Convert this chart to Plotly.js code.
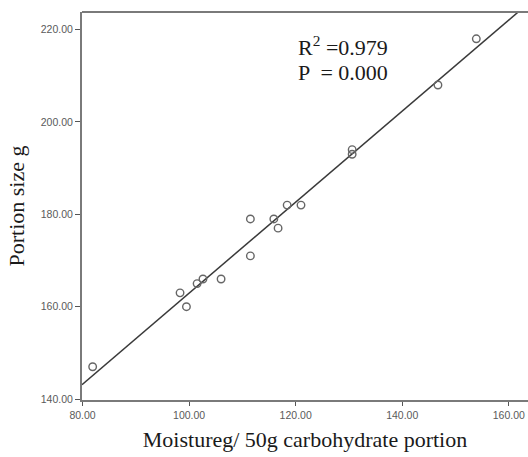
<!DOCTYPE html>
<html>
<head>
<meta charset="utf-8">
<script src="https://cdn.plot.ly/plotly-3.0.1.min.js"></script>
<style>html,body{margin:0;padding:0;background:#fff;overflow:hidden;}#chart{width:528px;height:457px;}</style>
</head>
<body>
<div id="chart"></div>
<script>
// Moisture (g per 50 g carbohydrate portion) vs portion size (g)
const moisture = [81.9, 98.3, 99.5, 101.5, 102.6, 106.0, 111.5, 111.5, 115.9, 116.7, 118.4, 121.0, 130.6, 130.6, 146.7, 153.9];
const portionSize = [147, 163, 160, 165, 166, 166, 179, 171, 179, 177, 182, 182, 194, 193, 208, 218];
const xTicks = [80, 100, 120, 140, 160];
const yTicks = [140, 160, 180, 200, 220];
const xRange = [79.9, 163.6];
const yRange = [139.8, 223.8];
const statLines = ["R<sup>2</sup> =0.979", "P  = 0.000"];

// least-squares fit line computed from the data
const n = moisture.length;
const mx = moisture.reduce((a, b) => a + b, 0) / n;
const my = portionSize.reduce((a, b) => a + b, 0) / n;
let sxy = 0, sxx = 0;
for (let i = 0; i < n; i++) { sxy += (moisture[i] - mx) * (portionSize[i] - my); sxx += (moisture[i] - mx) ** 2; }
const slope = sxy / sxx, intercept = my - slope * mx;
const fitX = [xRange[0], xRange[1]];
const fitY = fitX.map(x => intercept + slope * x);

const data = [
  {x: fitX, y: fitY, mode: 'lines', type: 'scatter', line: {color: '#3a3a3a', width: 1.5}, hoverinfo: 'skip'},
  {x: moisture, y: portionSize, mode: 'markers', type: 'scatter',
   marker: {symbol: 'circle-open', size: 7.5, color: '#666', line: {width: 1.4, color: '#666'}}}
];

const tickFont = {family: 'Liberation Sans, Arial, sans-serif', size: 10.5, color: '#5a5a5a'};
const titleFont = {family: 'Liberation Serif, Times New Roman, serif', size: 22, color: '#1a1a1a'};
const statFont = {family: 'Liberation Serif, Times New Roman, serif', size: 22, color: '#1a1a1a'};

const layout = {
  width: 528, height: 457,
  margin: {l: 82, r: 0, t: 12, b: 57},
  paper_bgcolor: '#fff', plot_bgcolor: '#fff',
  showlegend: false,
  xaxis: {
    range: xRange, tickvals: xTicks, ticktext: xTicks.map(v => v.toFixed(2)),
    showgrid: false, zeroline: false, showline: true, mirror: false, linecolor: '#7a7a7a', linewidth: 2,
    ticks: 'outside', ticklen: 4, tickcolor: '#555', tickwidth: 1, tickfont: tickFont,
    title: {text: 'Moistureg/ 50g carbohydrate portion', font: titleFont, standoff: 12}
  },
  yaxis: {
    range: yRange, tickvals: yTicks, ticktext: yTicks.map(v => v.toFixed(2)),
    showgrid: false, zeroline: false, showline: true, linecolor: '#7a7a7a', linewidth: 2,
    ticks: 'outside', ticklen: 5, tickcolor: '#555', tickwidth: 1, tickfont: tickFont,
    title: {text: 'Portion size g', font: titleFont, standoff: 10}
  },
  shapes: [
    {type: 'line', xref: 'paper', yref: 'paper', x0: 0, x1: 1, y0: 1, y1: 1, line: {color: '#7a7a7a', width: 2}}
  ],
  annotations: [
    {xref: 'paper', yref: 'paper', x: 0.48, y: 0.912, xanchor: 'left', yanchor: 'middle', showarrow: false,
     text: statLines[0], font: statFont},
    {xref: 'paper', yref: 'paper', x: 0.48, y: 0.845, xanchor: 'left', yanchor: 'middle', showarrow: false,
     text: statLines[1], font: statFont}
  ]
};

Plotly.newPlot('chart', data, layout, {displayModeBar: false, staticPlot: true});
</script>
</body>
</html>
